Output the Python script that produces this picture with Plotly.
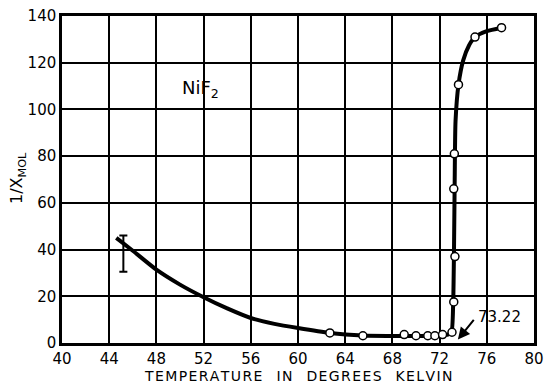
import plotly.graph_objects as go

# Measured points (open circles)
temp_pts = [62.7, 65.5, 69.0, 70.0, 71.0, 71.6, 72.25, 73.05, 73.2, 73.3, 73.2, 73.25, 73.6, 75.0, 77.25]
inv_chi_pts = [4.3, 3.1, 3.6, 3.1, 3.1, 3.1, 3.6, 4.6, 17.6, 37.0, 66.0, 81.0, 110.6, 131.0, 135.0]

# Smooth drawn curve
curve_t = [44.6, 46.0, 48.0, 50.0, 52.0, 54.0, 56.0, 58.0, 60.0, 62.7, 65.5, 68.0, 70.0, 72.0, 72.7,
           73.0, 73.15, 73.22, 73.28, 73.35, 73.6, 74.0, 74.5, 75.0, 76.0, 77.25]
curve_v = [45.0, 39.5, 31.4, 25.0, 19.6, 14.8, 10.7, 8.2, 6.4, 4.3, 3.2, 3.0, 3.0, 3.2, 3.6,
           4.6, 17.0, 40.0, 70.0, 95.0, 110.6, 121.0, 127.5, 131.0, 133.5, 135.0]

# Error bar near 45 K
err_t = [45.2]
err_center = [38.25]
err_half = [7.75]

x_ticks = [40, 44, 48, 52, 56, 60, 64, 68, 72, 76, 80]
y_ticks = [0, 20, 40, 60, 80, 100, 120, 140]

FONT = "DejaVu Sans"

fig = go.Figure()

fig.add_trace(go.Scatter(
    x=curve_t, y=curve_v, mode="lines",
    line=dict(color="black", width=4, shape="spline", smoothing=0.6),
    hoverinfo="skip", showlegend=False))

fig.add_trace(go.Scatter(
    x=err_t, y=err_center, mode="markers",
    marker=dict(size=1, color="rgba(0,0,0,0)"),
    error_y=dict(type="data", array=err_half, visible=True, color="black", thickness=2, width=4),
    showlegend=False))

fig.add_trace(go.Scatter(
    x=temp_pts, y=inv_chi_pts, mode="markers",
    marker=dict(size=8, color="white", line=dict(color="black", width=1.5)),
    showlegend=False))

fig.add_annotation(x=51.75, y=108.6, text="NiF<sub>2</sub>", showarrow=False,
                   font=dict(family=FONT, size=18, color="black"))

fig.add_annotation(x=73.55, y=1.5, ax=75.0, ay=10.5, axref="x", ayref="y",
                   text="", showarrow=True, arrowhead=2, arrowsize=1.2, arrowwidth=2,
                   arrowcolor="black")
fig.add_annotation(x=75.1, y=11, text="73.22", showarrow=False, xanchor="left",
                   font=dict(family=FONT, size=15, color="black"))

xtitle = "\u2003".join("\u200a".join(w) for w in ["TEMPERATURE", "IN", "DEGREES", "KELVIN"])
fig.add_annotation(x=0.5, y=-0.101, xref="paper", yref="paper", text=xtitle, showarrow=False,
                   xanchor="center", yanchor="middle",
                   font=dict(family=FONT, size=14, color="black"))
fig.add_annotation(x=-0.093, y=0.505, xref="paper", yref="paper", text="1/X<sub>MOL</sub>",
                   showarrow=False, textangle=-90, xanchor="center", yanchor="middle",
                   font=dict(family=FONT, size=16, color="black"))

axis_common = dict(
    showgrid=True, gridcolor="black", gridwidth=2,
    showline=True, linecolor="black", linewidth=2.5, mirror=True,
    zeroline=False, ticks="", automargin=False,
    tickfont=dict(family=FONT, size=15, color="black"),
)

fig.update_xaxes(range=[40, 80], tickvals=x_ticks, ticktext=[str(v) for v in x_ticks],
                 **axis_common)
fig.update_yaxes(range=[0, 140], tickvals=y_ticks, ticktext=[str(v) for v in y_ticks],
                 **axis_common)

fig.update_layout(
    width=546, height=384,
    margin=dict(l=62, r=12, t=16, b=41),
    paper_bgcolor="white", plot_bgcolor="white",
    showlegend=False,
)

fig.write_html("out.html")
